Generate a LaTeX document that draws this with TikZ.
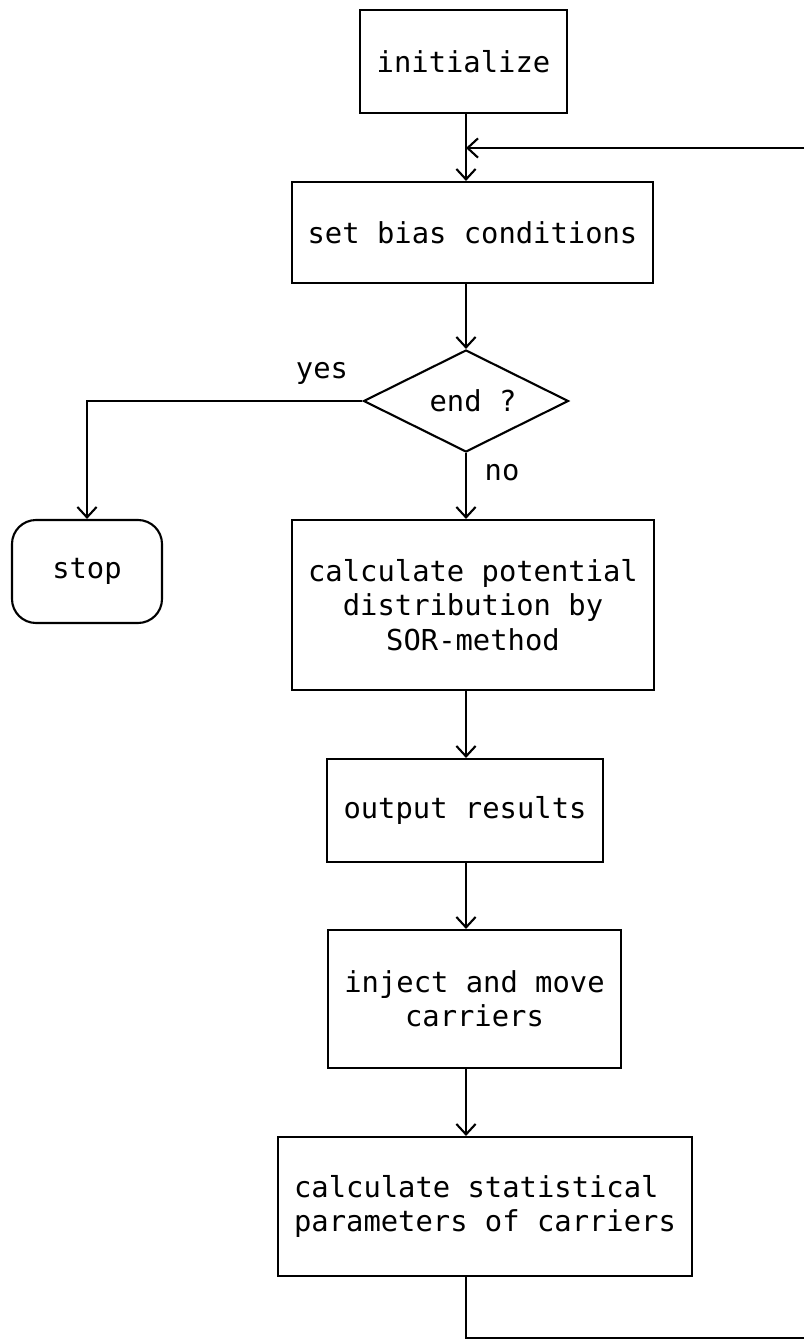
\documentclass[tikz,border=0pt]{standalone}
\usepackage{fontspec}
\setmonofont{DejaVu Sans Mono}
\usetikzlibrary{arrows.meta,shapes.geometric}
\newcommand{\px}{0.025cm}

\begin{document}
\begin{tikzpicture}[
      x=\px, y=-\px,
      line width=1.5pt,
      every node/.style={font=\ttfamily\fontsize{20.5pt}{24.5pt}\selectfont},
      box/.style={draw, rectangle, inner sep=0pt, align=center},
      decision/.style={draw, diamond, aspect=2, inner sep=0pt},
      terminal/.style={draw, rectangle, rounded corners=0.6cm, inner sep=0pt},
      arrow/.style={-{Straight Barb[length=0.26cm,width=0.48cm]}}
    ]
    \useasboundingbox (0,0) rectangle (804,1341);
    \coordinate (spine) at (466,0);

    \node[box, minimum width=207*\px, minimum height=103*\px] (init) at (463.5,61.5) {initialize};
    \node[box, minimum width=361*\px, minimum height=101*\px] (bias) at (472.5,232.5) {set bias conditions};
    \node[decision, minimum width=205*\px, minimum height=102*\px] (endq) at (466,401) {\hspace*{0.35cm}end ?};
    \node[terminal, minimum width=150*\px, minimum height=103*\px] (stop) at (87,571.5) {stop};
    \node[box, minimum width=362*\px, minimum height=170*\px] (pot) at (473,605)
      {calculate potential\\distribution by\\SOR-method};
    \node[box, minimum width=276*\px, minimum height=103*\px] (out) at (465,810.5) {output results};
    \node[box, minimum width=293*\px, minimum height=138*\px] (inj) at (474.5,999)
      {inject and move\\carriers};
    \node[box, align=left, minimum width=414*\px, minimum height=139*\px] (stat) at (485,1206.5)
      {calculate statistical\\parameters of carriers};

    \node (yes) at (322,373) {yes};
    \node (no)  at (502,473) {no};

    \coordinate (backin)  at (804,148);
    \coordinate (backout) at (804,1338);

    % main column
    \draw[arrow] (spine |- init.south) -- (spine |- bias.north);
    \draw[arrow] (spine |- bias.south) -- (endq.north);
    \draw[arrow] (endq.south) -- (spine |- pot.north);
    \draw[arrow] (spine |- pot.south) -- (spine |- out.north);
    \draw[arrow] (spine |- out.south) -- (spine |- inj.north);
    \draw[arrow] (spine |- inj.south) -- (spine |- stat.north);

    % yes branch
    \draw[arrow] (endq.west) -| (stop.north);

    % loop back
    \draw (spine |- stat.south) -- (spine |- backout) -- (backout);
    \draw[arrow] (backin) -- (spine |- backin);
  \end{tikzpicture}
\end{document}
